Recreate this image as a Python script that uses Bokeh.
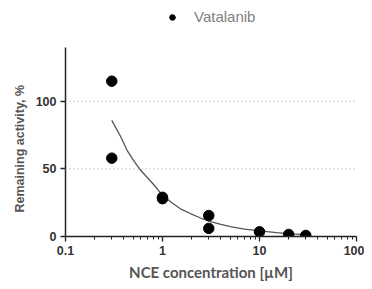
from bokeh.plotting import figure
from bokeh.models import Range1d, FixedTicker, Span, Legend, LegendItem, ColumnDataSource
from bokeh.embed import file_html
from bokeh.resources import INLINE

# measured data (Vatalanib)
conc = [0.3, 0.3, 1, 1, 3, 3, 10, 20, 30]
activity = [115, 58, 29, 28, 15.5, 6, 3.5, 1.5, 0.8]

# fitted curve
fit_x = [0.3, 0.37, 0.43, 0.5, 0.58, 0.7, 0.81, 1.0, 1.25, 1.53, 1.94, 2.5, 3.13, 4.0, 5.0, 7.0, 10.0, 15.0, 21.0, 30.0]
fit_y = [86, 74, 64, 56.5, 50, 43.5, 38.5, 30.5, 25, 20.5, 17, 13.5, 11, 9, 7.3, 5.5, 4.2, 2.8, 2.0, 1.4]

y_ticks = [0, 50, 100]
x_ticks = [0.1, 1, 10, 100]
grid_levels = [50, 100]
series_name = "Vatalanib"

p = figure(width=364, height=289, x_axis_type="log", output_backend="svg",
           toolbar_location=None, x_range=Range1d(0.1, 100), y_range=Range1d(0, 171),
           min_border_left=65, min_border_right=8, min_border_top=5, min_border_bottom=53)
p.outline_line_color = None
p.grid.visible = False
p.background_fill_color = "white"

for lvl in grid_levels:
    p.add_layout(Span(location=lvl, dimension="width", line_color="#aaaaaa",
                      line_dash="1 3", line_width=1.2))

p.line(fit_x, fit_y, line_color="#555555", line_width=1.3)
src = ColumnDataSource(dict(x=conc, y=activity))
r = p.scatter("x", "y", source=src, size=10.5, color="black")

# axes
for ax in (p.xaxis[0], p.yaxis[0]):
    ax.axis_line_color = "#222222"
    ax.axis_line_width = 1.5
    ax.major_tick_line_color = "#222222"
    ax.minor_tick_line_color = "#222222"
    ax.major_tick_line_width = 1.3
    ax.major_tick_out = 5
    ax.major_tick_in = 0
    ax.minor_tick_out = 3
    ax.minor_tick_in = 0
    ax.major_label_text_font = "Liberation Sans"
    ax.major_label_text_font_style = "bold"
    ax.major_label_text_font_size = "12.5px"
    ax.major_label_text_color = "#333333"
    ax.axis_label_text_font_style = "bold"
    ax.axis_label_text_color = "#555555"

p.xaxis[0].ticker = FixedTicker(ticks=x_ticks, minor_ticks=[m * d for d in [0.1, 1, 10] for m in range(2, 10)])
p.xaxis[0].major_label_overrides = {0.1: "0.1", 1: "1", 10: "10", 100: "100"}
p.xaxis[0].axis_label = "NCE concentration [µM]"
p.xaxis[0].axis_label_text_font = "Lato"
p.xaxis[0].axis_label_text_font_size = "15px"
p.xaxis[0].major_label_standoff = 4
p.xaxis[0].axis_label_standoff = 5

p.yaxis[0].ticker = FixedTicker(ticks=y_ticks, minor_ticks=[])
p.yaxis[0].bounds = (0, 140)
# trailing no-break spaces shift the centred title down to the bounded axis span
p.yaxis[0].axis_label = "Remaining activity, %" + "\u00a0" * 16
p.yaxis[0].axis_label_text_font = "Liberation Sans"
p.yaxis[0].axis_label_text_font_size = "12.5px"
p.yaxis[0].axis_label_standoff = 6
p.yaxis[0].major_label_standoff = 4

legend = Legend(items=[LegendItem(label=series_name, renderers=[r])],
                location=(100, 211), border_line_color=None, background_fill_alpha=0,
                padding=0, margin=0, glyph_width=14, glyph_height=14, label_standoff=15,
                label_text_font="Liberation Sans", label_text_font_size="15px",
                label_text_color="#808080", label_height=14)
p.add_layout(legend)

open("out.html", "w").write(file_html(p, INLINE))
